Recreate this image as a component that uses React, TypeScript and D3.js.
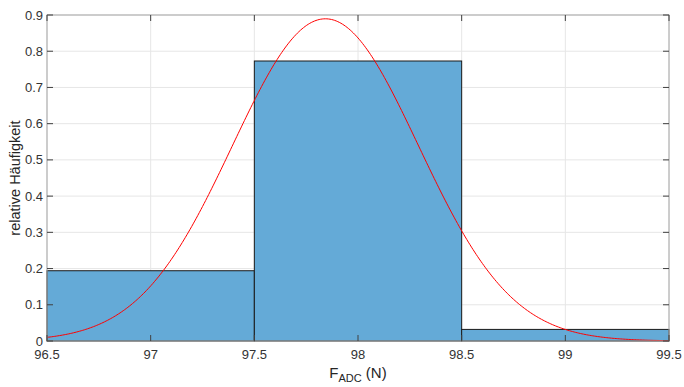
import React from "react";
import * as d3 from "d3";

const binEdges = [96.5, 97.5, 98.5, 99.5];
const binValues = [0.194, 0.773, 0.032];
const xTicks = [96.5, 97, 97.5, 98, 98.5, 99, 99.5];
const yTicks = [0, 0.1, 0.2, 0.3, 0.4, 0.5, 0.6, 0.7, 0.8, 0.9];
const fitMean = [97.843];
const fitSigma = [0.4485];

const W = 684, H = 387;
const m = { left: 47, right: 15, top: 15, bottom: 46 };

export default function App() {
  const x = d3.scaleLinear().domain([96.5, 99.5]).range([m.left, W - m.right]);
  const y = d3.scaleLinear().domain([0, 0.9]).range([H - m.bottom, m.top]);
  const mu = fitMean[0], sd = fitSigma[0];
  const xs = d3.range(0, 401).map(i => 96.5 + (3 * i) / 400);
  const pdf = (v: number) => Math.exp(-0.5 * ((v - mu) / sd) ** 2) / (sd * Math.sqrt(2 * Math.PI));
  const line = d3.line<number>().x(d => x(d)).y(d => y(pdf(d)));
  const font = "'Liberation Sans', Arial, Helvetica, sans-serif";
  const x0 = x.range()[0], x1 = x.range()[1], y0 = y.range()[0], y1 = y.range()[1];
  return (
    <svg width={W} height={H} style={{ position: "absolute", left: 0, top: 0, background: "#fff" }} fontFamily={font}>
      <rect x={0} y={0} width={W} height={H} fill="#fff" />
      {xTicks.map(t => (
        <line key={"gx" + t} x1={x(t)} x2={x(t)} y1={y0} y2={y1} stroke="#e6e6e6" strokeWidth={1} />
      ))}
      {yTicks.map(t => (
        <line key={"gy" + t} x1={x0} x2={x1} y1={y(t)} y2={y(t)} stroke="#e6e6e6" strokeWidth={1} />
      ))}
      {binValues.map((v, i) => (
        <rect key={"b" + i} x={x(binEdges[i])} y={y(v)} width={x(binEdges[i + 1]) - x(binEdges[i])}
          height={y(0) - y(v)} fill="#64aad7" stroke="#1a1a1a" strokeWidth={1} />
      ))}
      <path d={line(xs) || ""} fill="none" stroke="#ff0000" strokeWidth={1} />
      <rect x={x0} y={y1} width={x1 - x0} height={y0 - y1} fill="none" stroke="#a6a6a6" strokeWidth={1} />
      {xTicks.map(t => (
        <g key={"tx" + t}>
          <line x1={x(t)} x2={x(t)} y1={y0} y2={y0 - 6} stroke="#404040" />
          <line x1={x(t)} x2={x(t)} y1={y1} y2={y1 + 6} stroke="#404040" />
          <text x={x(t)} y={y0 + 18} textAnchor="middle" fontSize={13} fill="#333">{String(t)}</text>
        </g>
      ))}
      {yTicks.map(t => (
        <g key={"ty" + t}>
          <line x1={x0} x2={x0 + 6} y1={y(t)} y2={y(t)} stroke="#404040" />
          <line x1={x1} x2={x1 - 6} y1={y(t)} y2={y(t)} stroke="#404040" />
          <text x={x0 - 4} y={y(t) + 4.5} textAnchor="end" fontSize={13} fill="#333">{String(t)}</text>
        </g>
      ))}
      <text x={(x0 + x1) / 2} y={378} textAnchor="middle" fontSize={15} fill="#262626">
        F<tspan fontSize={11} dy={4}>ADC</tspan><tspan dy={-4}> (N)</tspan>
      </text>
      <text transform={`translate(20, ${(y0 + y1) / 2}) rotate(-90)`} textAnchor="middle" fontSize={14.5} fill="#262626">relative Häufigkeit</text>
    </svg>
  );
}
